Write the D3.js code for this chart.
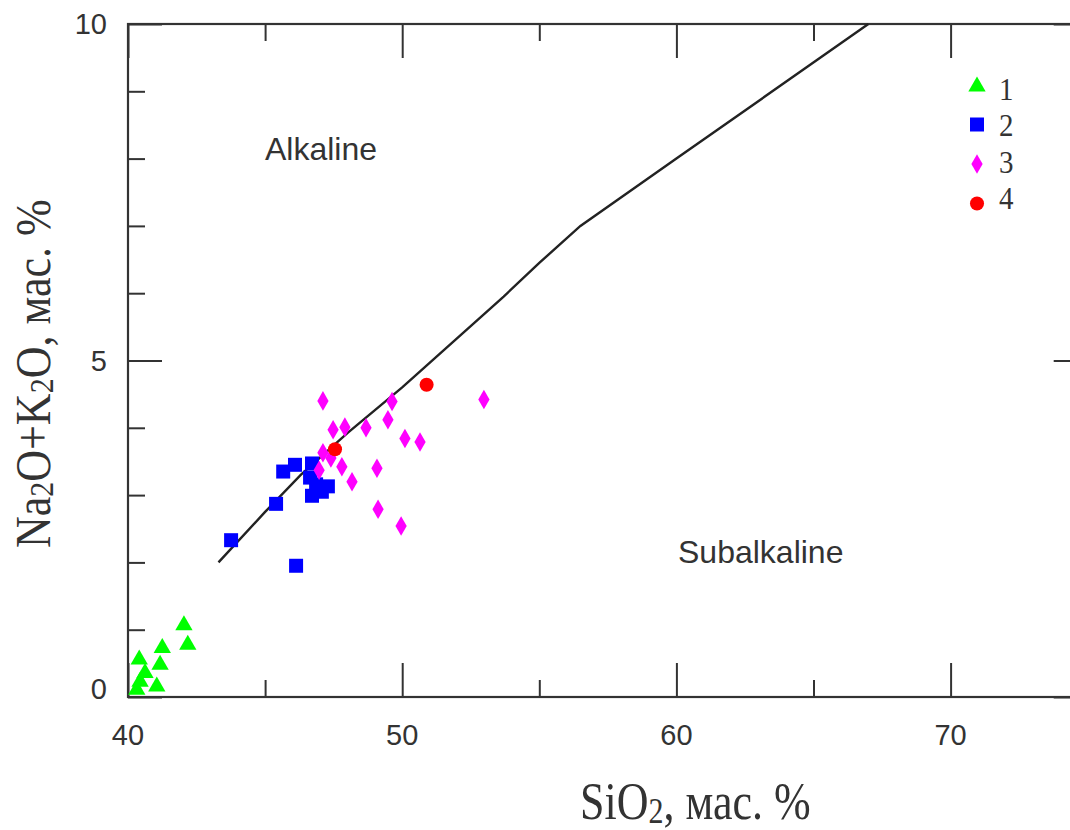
<!DOCTYPE html>
<html>
<head>
<meta charset="utf-8">
<script src="https://cdn.jsdelivr.net/npm/d3@7"></script>
<style>
  body { margin: 0; background: #fff; }
  svg { display: block; }
</style>
</head>
<body>
<div id="chart"></div>
<script>
// --- data ---
const group1X = [42.04, 42.18, 41.25, 41.17, 40.41, 40.62, 40.44, 41.05, 40.32];
const group1Y = [1.09, 0.80, 0.75, 0.50, 0.58, 0.38, 0.25, 0.18, 0.13];

const group2X = [43.76, 45.40, 46.13, 45.66, 46.09, 46.71, 46.64, 46.86, 46.71, 47.07, 47.29];
const group2Y = [2.33, 2.87, 1.95, 3.35, 3.45, 3.47, 3.26, 3.16, 2.99, 3.05, 3.13];

const group3X = [47.11, 49.63, 49.48, 47.48, 47.91, 48.68, 50.10, 50.65, 47.11, 46.97, 47.80, 48.17, 49.08, 49.12, 49.96, 52.98, 47.40];
const group3Y = [4.40, 4.39, 4.12, 3.97, 4.01, 4.00, 3.84, 3.79, 3.63, 3.37, 3.42, 3.20, 3.40, 2.79, 2.54, 4.42, 3.55];

const group4X = [47.55, 50.89];
const group4Y = [3.68, 4.64];

// alkaline / subalkaline dividing line
const lineX = [43.3, 45.0, 46.3, 48.0, 50.0, 53.7, 55.0, 56.5, 60.0, 67.0];
const lineY = [2.0, 2.75, 3.3, 3.92, 4.6, 5.95, 6.45, 7.0, 8.0, 10.0];

const xMajor = [40, 50, 60, 70];
const xMinor = [45, 55, 65, 75];
const yMajor = [0, 5, 10];
const yMinor = [1, 2, 3, 4, 6, 7, 8, 9];
const legendLabels = ["1", "2", "3", "4"];

const width = 1070, height = 830;
const mLeft = 128, mTop = 24, mBottom = 697, mRight = 1087.7;

const svg = d3.select("#chart").append("svg")
    .attr("width", width)
    .attr("height", height);

const x = d3.scaleLinear().domain([40, 75]).range([mLeft, mRight]);
const y = d3.scaleLinear().domain([0, 10]).range([mBottom, mTop]);

const ink = "#333";
const sans = "'Liberation Sans', Arial, sans-serif";
const serif = "'Liberation Serif', 'Times New Roman', serif";

// ticks (all pointing inward)
function tickAxis(axis, vals, size, transform) {
    svg.append("g")
        .attr("transform", transform)
        .call(axis.tickValues(vals).tickSize(-size).tickFormat(""))
        .call(g => g.select(".domain").remove())
        .call(g => g.selectAll("line").attr("stroke", ink).attr("stroke-width", 2));
}
tickAxis(d3.axisBottom(x), xMajor, 34, `translate(0,${mBottom})`);
tickAxis(d3.axisBottom(x), xMinor, 17, `translate(0,${mBottom})`);
tickAxis(d3.axisTop(x), xMajor, 34, `translate(0,${mTop})`);
tickAxis(d3.axisTop(x), xMinor, 17, `translate(0,${mTop})`);
tickAxis(d3.axisLeft(y), yMajor, 34, `translate(${mLeft},0)`);
tickAxis(d3.axisLeft(y), yMinor, 17, `translate(${mLeft},0)`);
tickAxis(d3.axisRight(y), yMajor, 34, `translate(${mRight},0)`);
tickAxis(d3.axisRight(y), yMinor, 17, `translate(${mRight},0)`);

// frame
svg.append("rect")
    .attr("x", mLeft).attr("y", mTop)
    .attr("width", mRight - mLeft).attr("height", mBottom - mTop)
    .attr("fill", "none")
    .attr("stroke", ink)
    .attr("stroke-width", 2.2);

// tick labels
svg.append("g").selectAll("text")
    .data(xMajor)
    .join("text")
    .attr("x", d => x(d))
    .attr("y", mBottom + 48)
    .attr("text-anchor", "middle")
    .attr("font-family", sans)
    .attr("font-size", 29)
    .attr("fill", ink)
    .text(d => d);

svg.append("g").selectAll("text")
    .data(yMajor)
    .join("text")
    .attr("x", mLeft - 21)
    .attr("y", d => y(d) + (d === 0 ? 2 : 10))
    .attr("text-anchor", "end")
    .attr("font-family", sans)
    .attr("font-size", 29)
    .attr("fill", ink)
    .text(d => d);

// dividing line
const pts = lineX.map((v, i) => [v, lineY[i]]);
svg.append("path")
    .datum(pts)
    .attr("fill", "none")
    .attr("stroke", "#222")
    .attr("stroke-width", 2.4)
    .attr("d", d3.line().x(d => x(d[0])).y(d => y(d[1])));

// point groups
const groups = [
    { xs: group1X, ys: group1Y, type: d3.symbolTriangle, size: 130, color: "#00ff00", dy: 1.5 },
    { xs: group2X, ys: group2Y, type: d3.symbolSquare, size: 196, color: "#0000ff", dy: 0 },
    { xs: group3X, ys: group3Y, type: d3.symbolDiamond, size: 110, color: "#ff00ff", dy: 0 },
    { xs: group4X, ys: group4Y, type: d3.symbolCircle, size: 155, color: "#ff0000", dy: 0 }
];

groups.forEach(g => {
    svg.append("g").selectAll("path")
        .data(g.xs.map((v, i) => [v, g.ys[i]]))
        .join("path")
        .attr("transform", d => `translate(${x(d[0])},${y(d[1]) + g.dy})`)
        .attr("d", d3.symbol().type(g.type).size(g.size))
        .attr("fill", g.color);
});

// legend
const legend = svg.append("g");
groups.forEach((g, i) => {
    legend.append("path")
        .attr("transform", `translate(977,${85 + i * 39.5 + g.dy})`)
        .attr("d", d3.symbol().type(g.type).size(g.size))
        .attr("fill", g.color);
    legend.append("text")
        .attr("x", 999)
        .attr("y", 100 + i * 36.5)
        .attr("font-family", serif)
        .attr("font-size", 29)
        .attr("fill", ink)
        .attr("transform", `translate(0,${100 + i * 36.5}) scale(1,1.1) translate(0,${-(100 + i * 36.5)})`)
        .text(legendLabels[i]);
});

// field labels
svg.append("text")
    .attr("x", 265).attr("y", 160)
    .attr("font-family", sans).attr("font-size", 32)
    .attr("fill", ink)
    .text("Alkaline");
svg.append("text")
    .attr("x", 678).attr("y", 563)
    .attr("font-family", sans).attr("font-size", 32)
    .attr("fill", ink)
    .text("Subalkaline");

// axis titles (glyphs a bit taller than wide in the reference)
function addSub(t, base, sub) {
    t.append("tspan").text(base);
    t.append("tspan").attr("font-size", 30).attr("dy", 3).text(sub);
    return t;
}

const xt = svg.append("text")
    .attr("transform", "translate(580,819) scale(1,1.2)")
    .attr("text-anchor", "start")
    .attr("font-family", serif).attr("font-size", 44)
    .attr("fill", ink);
addSub(xt, "SiO", "2");
xt.append("tspan").attr("dy", -3).text(", мас. %");

const yt = svg.append("text")
    .attr("transform", "translate(50,548) rotate(-90) scale(1,1.15)")
    .attr("text-anchor", "start")
    .attr("font-family", serif).attr("font-size", 44)
    .attr("fill", ink);
addSub(yt, "Na", "2");
yt.append("tspan").attr("dy", -3).text("O+K");
yt.append("tspan").attr("font-size", 30).attr("dy", 3).text("2");
yt.append("tspan").attr("dy", -3).text("O, мас. %");
</script>
</body>
</html>
